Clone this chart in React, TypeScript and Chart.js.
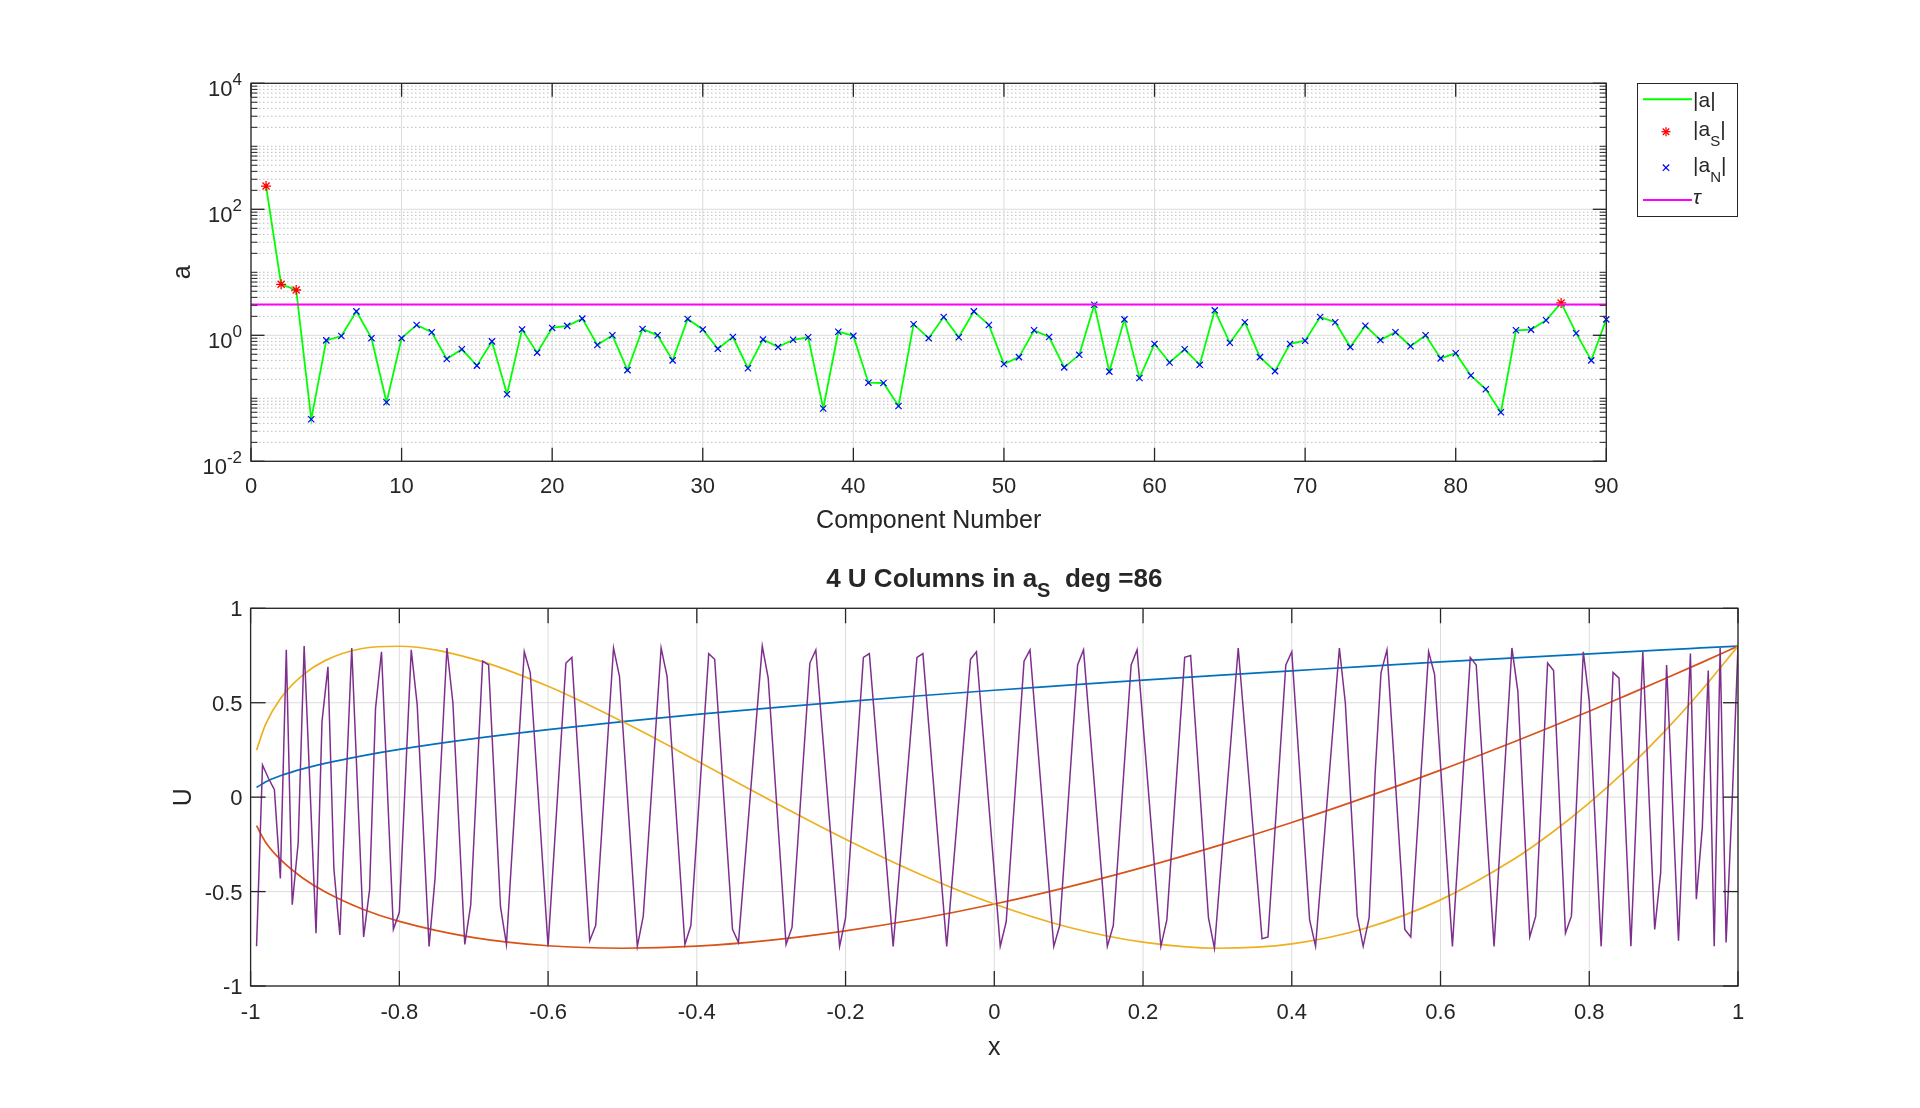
import React, { useEffect, useRef } from 'react';
import { Chart, registerables } from 'chart.js';

Chart.register(...registerables);

const FONT = '"Liberation Sans", Arial, Helvetica, sans-serif';
const AXIS_COLOR = '#262626';

// ---------------- top panel data ----------------
const componentAbs = [
  234, 6.45, 5.24, 0.0464, 0.83, 0.975, 2.4, 0.9, 0.0864, 0.9,
  1.46, 1.12, 0.42, 0.6, 0.33, 0.8, 0.116, 1.24, 0.53, 1.31,
  1.41, 1.84, 0.7, 1.0, 0.28, 1.26, 1.0, 0.4, 1.82, 1.24,
  0.61, 0.94, 0.3, 0.86, 0.65, 0.85, 0.93, 0.069, 1.14, 0.98,
  0.177, 0.175, 0.0755, 1.5, 0.9, 1.95, 0.93, 2.4, 1.46, 0.35,
  0.45, 1.2, 0.94, 0.31, 0.49, 3.05, 0.265, 1.79, 0.21, 0.73,
  0.37, 0.6, 0.34, 2.49, 0.76, 1.61, 0.45, 0.27, 0.73, 0.82,
  1.95, 1.61, 0.65, 1.42, 0.84, 1.12, 0.67, 1.0, 0.43, 0.52,
  0.23, 0.139, 0.06, 1.2, 1.23, 1.73, 3.26, 1.08, 0.4, 1.79,
];
const selectedComponents = [1, 2, 3, 87];
const tauValue = 3.08;
const tauSpan = [0, 90];
const topXTicks = [0, 10, 20, 30, 40, 50, 60, 70, 80, 90];
const topYTickValues = [0.01, 1, 100, 10000];
const topYTickExponents = ['-2', '0', '2', '4'];
const topXLabel = 'Component Number';
const topYLabel = 'a';

// ---------------- bottom panel data ----------------
const smoothX = [-0.992, -0.98, -0.96, -0.93, -0.9, -0.85, -0.8, -0.7, -0.6, -0.5, -0.4, -0.3, -0.2, -0.1, 0, 0.1, 0.2, 0.3, 0.4, 0.5, 0.6, 0.7, 0.75, 0.8, 0.85, 0.9, 0.95, 1];
const uColumn1 = [0.051, 0.08, 0.113, 0.15, 0.179, 0.219, 0.253, 0.31, 0.358, 0.4, 0.438, 0.473, 0.506, 0.537, 0.566, 0.593, 0.62, 0.645, 0.669, 0.693, 0.716, 0.738, 0.748, 0.759, 0.769, 0.78, 0.79, 0.8];
const uColumn2 = [-0.151, -0.237, -0.33, -0.428, -0.501, -0.592, -0.658, -0.744, -0.787, -0.8, -0.789, -0.757, -0.708, -0.644, -0.566, -0.475, -0.372, -0.258, -0.134, 0, 0.143, 0.295, 0.374, 0.455, 0.539, 0.624, 0.711, 0.8];
const uColumn3 = [0.249, 0.384, 0.521, 0.646, 0.723, 0.787, 0.799, 0.731, 0.587, 0.4, 0.193, -0.019, -0.223, -0.408, -0.566, -0.689, -0.768, -0.8, -0.777, -0.693, -0.544, -0.325, -0.187, -0.03, 0.146, 0.343, 0.561, 0.8];
const uColumn4X = [
  -0.992, -0.984, -0.976, -0.968, -0.96, -0.952, -0.944, -0.936, -0.928, -0.912,
  -0.904, -0.896, -0.888, -0.88, -0.864, -0.848, -0.84, -0.832, -0.824, -0.808,
  -0.8, -0.784, -0.776, -0.76, -0.752, -0.736, -0.728, -0.712, -0.704, -0.688,
  -0.68, -0.664, -0.656, -0.632, -0.624, -0.6, -0.576, -0.568, -0.544, -0.536,
  -0.512, -0.504, -0.48, -0.472, -0.448, -0.44, -0.416, -0.408, -0.384, -0.376,
  -0.352, -0.344, -0.312, -0.304, -0.28, -0.272, -0.248, -0.24, -0.208, -0.2,
  -0.176, -0.168, -0.136, -0.104, -0.096, -0.064, -0.032, -0.024, 0.008, 0.016,
  0.04, 0.048, 0.08, 0.088, 0.112, 0.12, 0.152, 0.16, 0.184, 0.192,
  0.224, 0.232, 0.256, 0.264, 0.288, 0.296, 0.328, 0.36, 0.368, 0.392,
  0.4, 0.424, 0.432, 0.464, 0.472, 0.488, 0.496, 0.504, 0.512, 0.52,
  0.528, 0.552, 0.56, 0.584, 0.592, 0.616, 0.64, 0.648, 0.672, 0.696,
  0.704, 0.72, 0.728, 0.744, 0.752, 0.768, 0.776, 0.792, 0.8, 0.816,
  0.832, 0.84, 0.856, 0.872, 0.888, 0.896, 0.904, 0.92, 0.936, 0.944,
  0.952, 0.96, 0.968, 0.976, 0.984, 0.992, 1.0,
];
const uColumn4Y = [
  -0.79, 0.17, 0.1, 0.04, -0.43, 0.78, -0.57, -0.24, 0.8, -0.72,
  0.4, 0.69, -0.38, -0.73, 0.79, -0.74, -0.49, 0.47, 0.77, -0.7,
  -0.61, 0.78, 0.49, -0.79, -0.43, 0.79, 0.5, -0.78, -0.57, 0.72,
  0.7, -0.58, -0.78, 0.77, 0.66, -0.79, 0.71, 0.74, -0.76, -0.68,
  0.79, 0.64, -0.79, -0.63, 0.79, 0.64, -0.78, -0.68, 0.76, 0.73,
  -0.7, -0.77, 0.8, 0.63, -0.78, -0.69, 0.71, 0.78, -0.79, -0.64,
  0.74, 0.76, -0.79, 0.74, 0.76, -0.79, 0.73, 0.77, -0.79, -0.66,
  0.72, 0.78, -0.79, -0.68, 0.7, 0.78, -0.79, -0.68, 0.7, 0.78,
  -0.79, -0.65, 0.74, 0.75, -0.64, -0.8, 0.79, -0.75, -0.74, 0.7,
  0.77, -0.65, -0.79, 0.79, 0.5, -0.63, -0.79, -0.64, 0.12, 0.66,
  0.78, -0.7, -0.74, 0.77, 0.65, -0.79, 0.74, 0.7, -0.79, 0.79,
  0.56, -0.74, -0.63, 0.71, 0.67, -0.72, -0.63, 0.77, 0.51, -0.79,
  0.66, 0.63, -0.79, 0.77, -0.7, -0.4, 0.7, -0.76, 0.76, -0.54,
  -0.16, 0.67, -0.79, 0.79, -0.77, -0.04, 0.8,
];
const bottomXTicks = [-1, -0.8, -0.6, -0.4, -0.2, 0, 0.2, 0.4, 0.6, 0.8, 1];
const bottomXTickLabels = ['-1', '-0.8', '-0.6', '-0.4', '-0.2', '0', '0.2', '0.4', '0.6', '0.8', '1'];
const bottomYTicks = [-1, -0.5, 0, 0.5, 1];
const bottomYTickLabels = ['-1', '-0.5', '0', '0.5', '1'];
const bottomXLabel = 'x';
const bottomYLabel = 'U';
const titleMain = '4 U Columns in a';
const titleSub = 'S';
const titleTail = '  deg =86';

// minor log positions (axis decoration)
function minorLogValues(): number[] {
  const out: number[] = [];
  for (let k = -2; k <= 3; k++) {
    for (let m = 1; m <= 9; m++) {
      if (m === 1 && k % 2 === 0) continue;
      out.push(m * Math.pow(10, k));
    }
  }
  return out;
}

function hLine(ctx: CanvasRenderingContext2D, x1: number, x2: number, y: number) {
  ctx.beginPath(); ctx.moveTo(x1, y); ctx.lineTo(x2, y); ctx.stroke();
}
function vLine(ctx: CanvasRenderingContext2D, x: number, y1: number, y2: number) {
  ctx.beginPath(); ctx.moveTo(x, y1); ctx.lineTo(x, y2); ctx.stroke();
}

const topPlugin = {
  id: 'topAxes',
  beforeDatasetsDraw(chart: any) {
    const { ctx, chartArea: a, scales } = chart;
    const xs = scales.x, ys = scales.y;
    ctx.save();
    ctx.lineWidth = 1;
    ctx.strokeStyle = '#bdbdbd';
    ctx.setLineDash([1.5, 2.5]);
    for (const v of minorLogValues()) {
      const y = ys.getPixelForValue(v);
      hLine(ctx, a.left, a.right, y);
    }
    ctx.setLineDash([]);
    ctx.strokeStyle = '#dcdcdc';
    for (const v of topYTickValues) hLine(ctx, a.left, a.right, ys.getPixelForValue(v));
    for (const v of topXTicks) vLine(ctx, xs.getPixelForValue(v), a.top, a.bottom);
    ctx.restore();
  },
  afterDatasetsDraw(chart: any) {
    const { ctx, chartArea: a, scales } = chart;
    const xs = scales.x, ys = scales.y;
    ctx.save();
    ctx.strokeStyle = AXIS_COLOR;
    ctx.lineWidth = 1.3;
    for (const v of topXTicks) {
      const x = xs.getPixelForValue(v);
      vLine(ctx, x, a.bottom, a.bottom - 13.5);
      vLine(ctx, x, a.top, a.top + 13.5);
    }
    for (const v of topYTickValues) {
      const y = ys.getPixelForValue(v);
      hLine(ctx, a.left, a.left + 13.5, y);
      hLine(ctx, a.right - 13.5, a.right, y);
    }
    ctx.lineWidth = 1;
    for (const v of minorLogValues()) {
      const y = ys.getPixelForValue(v);
      hLine(ctx, a.left, a.left + 6.5, y);
      hLine(ctx, a.right - 6.5, a.right, y);
    }
    ctx.lineWidth = 1.3;
    ctx.strokeRect(a.left, a.top, a.right - a.left, a.bottom - a.top);

    ctx.fillStyle = AXIS_COLOR;
    ctx.font = `22px ${FONT}`;
    ctx.textAlign = 'center';
    ctx.textBaseline = 'alphabetic';
    for (const v of topXTicks) ctx.fillText(String(v), xs.getPixelForValue(v), a.bottom + 32);

    ctx.textAlign = 'left';
    const right = a.left - 9;
    topYTickValues.forEach((v, i) => {
      const y = ys.getPixelForValue(v);
      ctx.font = `17px ${FONT}`;
      const w2 = ctx.measureText(topYTickExponents[i]).width;
      ctx.font = `22px ${FONT}`;
      const w1 = ctx.measureText('10').width;
      ctx.fillText('10', right - w2 - w1, y + 13);
      ctx.font = `17px ${FONT}`;
      ctx.fillText(topYTickExponents[i], right - w2, y + 2);
    });

    ctx.font = `25px ${FONT}`;
    ctx.textAlign = 'center';
    ctx.fillText(topXLabel, (a.left + a.right) / 2, a.bottom + 67);
    ctx.save();
    ctx.translate(190, (a.top + a.bottom) / 2);
    ctx.rotate(-Math.PI / 2);
    ctx.fillText(topYLabel, 0, 0);
    ctx.restore();

    // legend
    const L = { x: 1637.5, y: 83.5, w: 100, h: 133 };
    ctx.fillStyle = '#ffffff';
    ctx.fillRect(L.x, L.y, L.w, L.h);
    ctx.strokeStyle = AXIS_COLOR;
    ctx.lineWidth = 1;
    ctx.strokeRect(L.x, L.y, L.w, L.h);
    const tx = 1693;
    const mx = 1666;
    // row 1
    ctx.strokeStyle = '#00ff00'; ctx.lineWidth = 2;
    hLine(ctx, 1643, 1692, 99.3);
    ctx.fillStyle = AXIS_COLOR; ctx.textAlign = 'left';
    ctx.font = `21px ${FONT}`;
    ctx.fillText('|a|', tx, 107);
    // row 2 star
    ctx.strokeStyle = '#ff0000'; ctx.lineWidth = 1.3;
    const r = 4.5, ry = 131.7;
    vLine(ctx, mx, ry - r, ry + r); hLine(ctx, mx - r, mx + r, ry);
    const d = r * 0.72;
    ctx.beginPath(); ctx.moveTo(mx - d, ry - d); ctx.lineTo(mx + d, ry + d); ctx.moveTo(mx - d, ry + d); ctx.lineTo(mx + d, ry - d); ctx.stroke();
    const subRow = (y: number, sub: string) => {
      ctx.font = `21px ${FONT}`;
      ctx.fillText('|a', tx, y + 4.6);
      const w = ctx.measureText('|a').width;
      ctx.font = `15px ${FONT}`;
      ctx.fillText(sub, tx + w, y + 14);
      const ws = ctx.measureText(sub).width;
      ctx.font = `21px ${FONT}`;
      ctx.fillText('|', tx + w + ws, y + 4.6);
    };
    ctx.fillStyle = AXIS_COLOR;
    subRow(ry, 'S');
    // row 3 x
    const xy = 167.7, xr = 3.2;
    ctx.strokeStyle = '#0000ff'; ctx.lineWidth = 1.2;
    ctx.beginPath(); ctx.moveTo(mx - xr, xy - xr); ctx.lineTo(mx + xr, xy + xr); ctx.moveTo(mx - xr, xy + xr); ctx.lineTo(mx + xr, xy - xr); ctx.stroke();
    subRow(xy, 'N');
    // row 4 tau
    ctx.strokeStyle = '#ff00ff'; ctx.lineWidth = 2;
    hLine(ctx, 1643, 1692, 200);
    ctx.font = `italic 21px ${FONT}`;
    ctx.fillText('τ', tx, 204);
    ctx.restore();
  },
};

const bottomPlugin = {
  id: 'bottomAxes',
  beforeDatasetsDraw(chart: any) {
    const { ctx, chartArea: a, scales } = chart;
    const xs = scales.x, ys = scales.y;
    ctx.save();
    ctx.strokeStyle = '#dcdcdc';
    ctx.lineWidth = 1;
    for (const v of bottomXTicks) vLine(ctx, xs.getPixelForValue(v), a.top, a.bottom);
    for (const v of bottomYTicks) hLine(ctx, a.left, a.right, ys.getPixelForValue(v));
    ctx.restore();
  },
  afterDatasetsDraw(chart: any) {
    const { ctx, chartArea: a, scales } = chart;
    const xs = scales.x, ys = scales.y;
    ctx.save();
    ctx.strokeStyle = AXIS_COLOR;
    ctx.lineWidth = 1.3;
    for (const v of bottomXTicks) {
      const x = xs.getPixelForValue(v);
      vLine(ctx, x, a.bottom, a.bottom - 15);
      vLine(ctx, x, a.top, a.top + 15);
    }
    for (const v of bottomYTicks) {
      const y = ys.getPixelForValue(v);
      hLine(ctx, a.left, a.left + 15, y);
      hLine(ctx, a.right - 15, a.right, y);
    }
    ctx.strokeRect(a.left, a.top, a.right - a.left, a.bottom - a.top);

    ctx.fillStyle = AXIS_COLOR;
    ctx.font = `22px ${FONT}`;
    ctx.textAlign = 'center';
    ctx.textBaseline = 'alphabetic';
    bottomXTicks.forEach((v, i) => ctx.fillText(bottomXTickLabels[i], xs.getPixelForValue(v), a.bottom + 33));
    ctx.textAlign = 'right';
    bottomYTicks.forEach((v, i) => ctx.fillText(bottomYTickLabels[i], a.left - 8, ys.getPixelForValue(v) + 8));

    ctx.font = `25px ${FONT}`;
    ctx.textAlign = 'center';
    ctx.fillText(bottomXLabel, (a.left + a.right) / 2, a.bottom + 69);
    ctx.save();
    ctx.translate(191, (a.top + a.bottom) / 2);
    ctx.rotate(-Math.PI / 2);
    ctx.fillText(bottomYLabel, 0, 0);
    ctx.restore();

    // title
    ctx.textAlign = 'left';
    const mainFont = `bold 26px ${FONT}`;
    const subFont = `bold 20px ${FONT}`;
    ctx.font = mainFont;
    const w1 = ctx.measureText(titleMain).width;
    const w3 = ctx.measureText(titleTail).width;
    ctx.font = subFont;
    const w2 = ctx.measureText(titleSub).width;
    const cx = (a.left + a.right) / 2;
    const start = cx - (w1 + w2 + w3) / 2;
    const by = a.top - 21.5;
    ctx.font = mainFont;
    ctx.fillText(titleMain, start, by);
    ctx.font = subFont;
    ctx.fillText(titleSub, start + w1, by + 10);
    ctx.font = mainFont;
    ctx.fillText(titleTail, start + w1 + w2, by);
    ctx.restore();
  },
};

function topConfig(): any {
  const lineData = componentAbs.map((v, i) => ({ x: i + 1, y: v }));
  const sData = lineData.filter((p) => selectedComponents.includes(p.x));
  const nData = lineData.filter((p) => !selectedComponents.includes(p.x));
  return {
    type: 'line',
    data: {
      datasets: [
        { label: '|a|', data: lineData, borderColor: '#00ff00', borderWidth: 1.8, pointRadius: 0, tension: 0, order: 4 },
        { label: '|aS|', data: sData, showLine: false, pointStyle: 'star', pointRadius: 5, pointBorderWidth: 1.3, pointBorderColor: '#ff0000', pointBackgroundColor: '#ff0000', borderColor: '#ff0000', order: 3, clip: false },
        { label: '|aN|', data: nData, showLine: false, pointStyle: 'crossRot', pointRadius: 4.4, pointBorderWidth: 1.2, pointBorderColor: '#0000ff', pointBackgroundColor: '#0000ff', borderColor: '#0000ff', order: 2, clip: false },
        { label: 'tau', data: tauSpan.map((x) => ({ x, y: tauValue })), borderColor: '#ff00ff', borderWidth: 2, pointRadius: 0, order: 1 },
      ],
    },
    options: {
      animation: false,
      responsive: false,
      devicePixelRatio: 1,
      events: [],
      layout: { padding: { left: 251, right: 313.7, top: 83.3, bottom: 98.7 } },
      scales: {
        x: { type: 'linear', min: 0, max: 90, display: false },
        y: { type: 'logarithmic', min: 0.01, max: 10000, display: false },
      },
      plugins: { legend: { display: false }, tooltip: { enabled: false } },
    },
    plugins: [topPlugin],
  };
}

function bottomConfig(): any {
  const smooth = (vals: number[]) => smoothX.map((x, i) => ({ x, y: vals[i] }));
  return {
    type: 'line',
    data: {
      datasets: [
        { data: smooth(uColumn1), borderColor: '#0072BD', borderWidth: 1.7, pointRadius: 0, cubicInterpolationMode: 'monotone', order: 4 },
        { data: smooth(uColumn2), borderColor: '#D95319', borderWidth: 1.7, pointRadius: 0, cubicInterpolationMode: 'monotone', order: 3 },
        { data: smooth(uColumn3), borderColor: '#EDB120', borderWidth: 1.7, pointRadius: 0, cubicInterpolationMode: 'monotone', order: 2 },
        { data: uColumn4X.map((x, i) => ({ x, y: uColumn4Y[i] })), borderColor: '#7E2F8E', borderWidth: 1.5, pointRadius: 0, tension: 0, order: 1 },
      ],
    },
    options: {
      animation: false,
      responsive: false,
      devicePixelRatio: 1,
      events: [],
      layout: { padding: { left: 250.6, right: 182, top: 48.3, bottom: 122 } },
      scales: {
        x: { type: 'linear', min: -1, max: 1, display: false },
        y: { type: 'linear', min: -1, max: 1, display: false },
      },
      plugins: { legend: { display: false }, tooltip: { enabled: false } },
    },
    plugins: [bottomPlugin],
  };
}

export default function App() {
  const topRef = useRef<HTMLCanvasElement>(null);
  const botRef = useRef<HTMLCanvasElement>(null);
  useEffect(() => {
    const c1 = new Chart(topRef.current as HTMLCanvasElement, topConfig());
    const c2 = new Chart(botRef.current as HTMLCanvasElement, bottomConfig());
    return () => {
      c1.destroy();
      c2.destroy();
    };
  }, []);
  return (
    <div style={{ position: 'fixed', left: 0, top: 0, width: 1920, height: 1108, background: '#ffffff', overflow: 'hidden' }}>
      <canvas ref={topRef} width={1920} height={560} style={{ position: 'absolute', left: 0, top: 0, width: 1920, height: 560 }} />
      <canvas ref={botRef} width={1920} height={548} style={{ position: 'absolute', left: 0, top: 560, width: 1920, height: 548 }} />
    </div>
  );
}
